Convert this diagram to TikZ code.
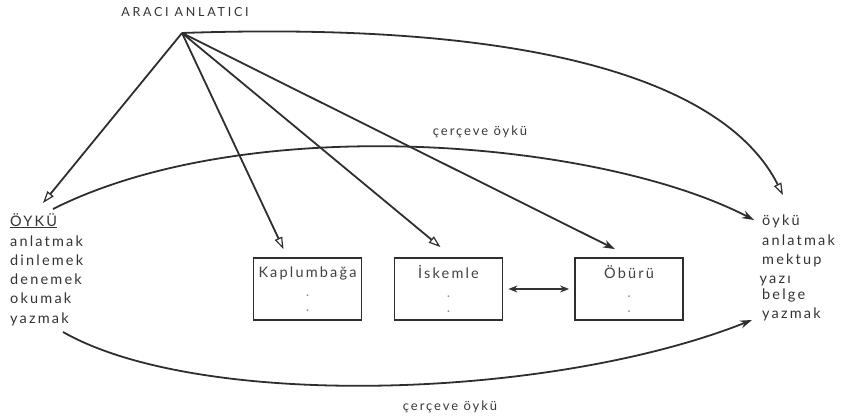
\documentclass[tikz,border=0pt]{standalone}
\usepackage{fontspec}
\setmainfont{Lato}[LetterSpace=15]
\newfontfamily\capsfont{Lato}[LetterSpace=22]
\usetikzlibrary{arrows.meta,calc}
\begin{document}
\begin{tikzpicture}[x=1pt,y=-1pt,
  ln/.style={line width=1.8pt, draw=black!82},
  openhead/.style={-{Triangle[open,length=12pt,width=8pt,line width=1.2pt]}},
  fillhead/.style={-{Stealth[length=12pt,width=8pt]}},
  txt/.style={font=\fontsize{14.5}{18}\selectfont, text=black!80, inner sep=0pt, anchor=base west},
  box/.style={draw=black!82, line width=1.8pt, minimum width=108pt, minimum height=62pt, inner sep=0pt, align=center, font=\fontsize{14.5}{18}\selectfont, text=black!75},
  lbl/.style={font=\fontsize{13}{16}\selectfont, text=black!78, inner sep=0pt},
]
\useasboundingbox (0,0) rectangle (844,420);
\node[font=\capsfont\fontsize{12.5}{14}\selectfont, text=black!80, inner sep=0pt] (araci) at (185,12) {ARACI ANLATICI};
\coordinate (apex) at (182,33);
% left list
\node[txt] (l1) at (10,226) {\underline{ÖYKÜ}};
\node[txt] (l2) at (10,246) {anlatmak};
\node[txt] (l3) at (10,265) {dinlemek};
\node[txt] (l4) at (10,284) {denemek};
\node[txt] (l5) at (10,303) {okumak};
\node[txt] (l6) at (10,323) {yazmak};
% right list
\node[txt] (r1) at (762,225) {öykü};
\node[txt] (r2) at (762,245) {anlatmak};
\node[txt] (r3) at (762,264) {mektup};
\node[txt] (r4) at (759.5,283) {yazı};
\node[txt] (r5) at (762,299) {belge};
\node[txt] (r6) at (762,318) {yazmak};
% boxes
\node[box] (kap) at (307.5,289) {Kaplumbağa\\[1pt]{\color{black!45}.}\\[-3pt]{\color{black!45}.}};
\node[box] (isk) at (448.5,289) {İskemle\\[1pt]{\color{black!45}.}\\[-3pt]{\color{black!45}.}};
\node[box] (obu) at (629,289) {Öbürü\\[1pt]{\color{black!45}.}\\[-3pt]{\color{black!45}.}};
% labels
\node[lbl] (c1) at (480,132) {çerçeve öykü};
\node[lbl] (c2) at (450,407) {çerçeve öykü};
% apex lines
\draw[ln,openhead] (apex) -- ($(l1.base west)+(33,-23)$);
\draw[ln,openhead] (apex) -- ($(kap.north)+(-24,-8)$);
\draw[ln,openhead] (apex) -- ($(isk.north)+(-8,-10)$);
\draw[ln,fillhead] (apex) -- ($(obu.north)+(-14,-8)$);
\draw[ln,openhead] (apex) .. controls (560,20) and (730,90) .. ($(r1.base west)+(21,-30)$);
% frame arcs
\draw[ln,fillhead] ($(l1.base west)+(43,-17)$) .. controls (250,110) and (600,140) .. ($(r1.base west)+(-8,-5)$);
\draw[ln,fillhead] ($(l6.base west)+(53,9)$) .. controls (200,410) and (550,400) .. ($(r6.base west)+(-10,2)$);
% double arrow
\draw[line width=1.5pt, draw=black!80, {Stealth[length=9pt,width=7pt]}-{Stealth[length=9pt,width=7pt]}, shorten <=5pt, shorten >=5pt] (isk.east) -- (obu.west);
\end{tikzpicture}
\end{document}
